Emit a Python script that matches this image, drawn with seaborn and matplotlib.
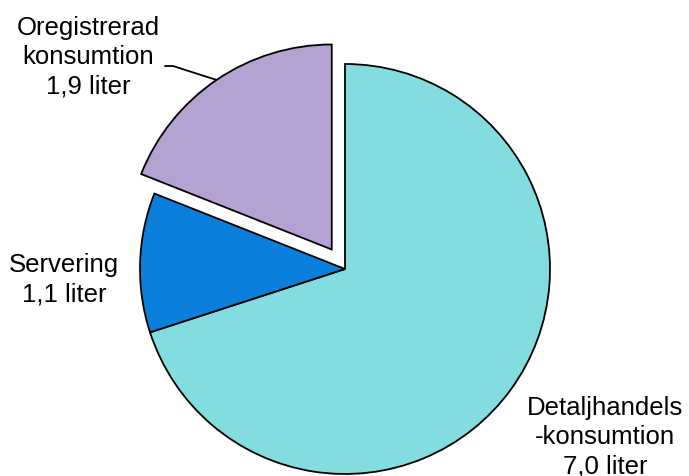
import numpy as np
import matplotlib
matplotlib.use("Agg")
import matplotlib.pyplot as plt
import seaborn as sns

# data
labels = ["Detaljhandels\n-konsumtion\n7,0 liter", "Servering\n1,1 liter", "Oregistrerad\nkonsumtion\n1,9 liter"]
values = [7.0, 1.1, 1.9]
colors = ["#82DCE0", "#0A7FDC", "#B4A2D2"]
explode = [0, 0, 0.115]

sns.set_theme(style="white")
plt.rcParams["font.family"] = ["Liberation Sans", "DejaVu Sans"]
plt.rcParams["text.color"] = "black"

fig = plt.figure(figsize=(6.89, 4.77), dpi=100)
ax = fig.add_axes([0, 0, 1, 1])

# 1 data unit = 205 px, pie centre at (345, 270) px
S = 205.0
def px(x, y):
    return (x - 345) / S, (270 - y) / S

wedges, _ = ax.pie(values, colors=colors, explode=explode, startangle=90,
                   counterclock=False, radius=1.0,
                   wedgeprops=dict(edgecolor="black", linewidth=1.3))

# labels
fs = 18.5
ax.text(*px(88, 57), labels[2], ha="center", va="center", fontsize=fs, linespacing=1.27, color="black")
ax.text(*px(64, 280), labels[1], ha="center", va="center", fontsize=fs, linespacing=1.27, color="black")
ax.text(*px(605, 437), labels[0], ha="center", va="center", fontsize=fs, linespacing=1.27, color="black")

# leader line for the exploded slice
w = wedges[2]
mid = np.deg2rad((w.theta1 + w.theta2) / 2)
cx, cy = w.center
ex, ey = cx + w.r * np.cos(mid), cy + w.r * np.sin(mid)
x0, y0 = px(165, 67)
x1, y1 = px(173, 67)
ax.plot([x0, x1, ex], [y0, y1, ey], color="black", linewidth=1.3)

ax.set_xlim(-345 / S, (689 - 345) / S)
ax.set_ylim(-(477 - 270) / S, 270 / S)
ax.set_aspect("equal")
ax.axis("off")

fig.savefig("out.png", dpi=100)
